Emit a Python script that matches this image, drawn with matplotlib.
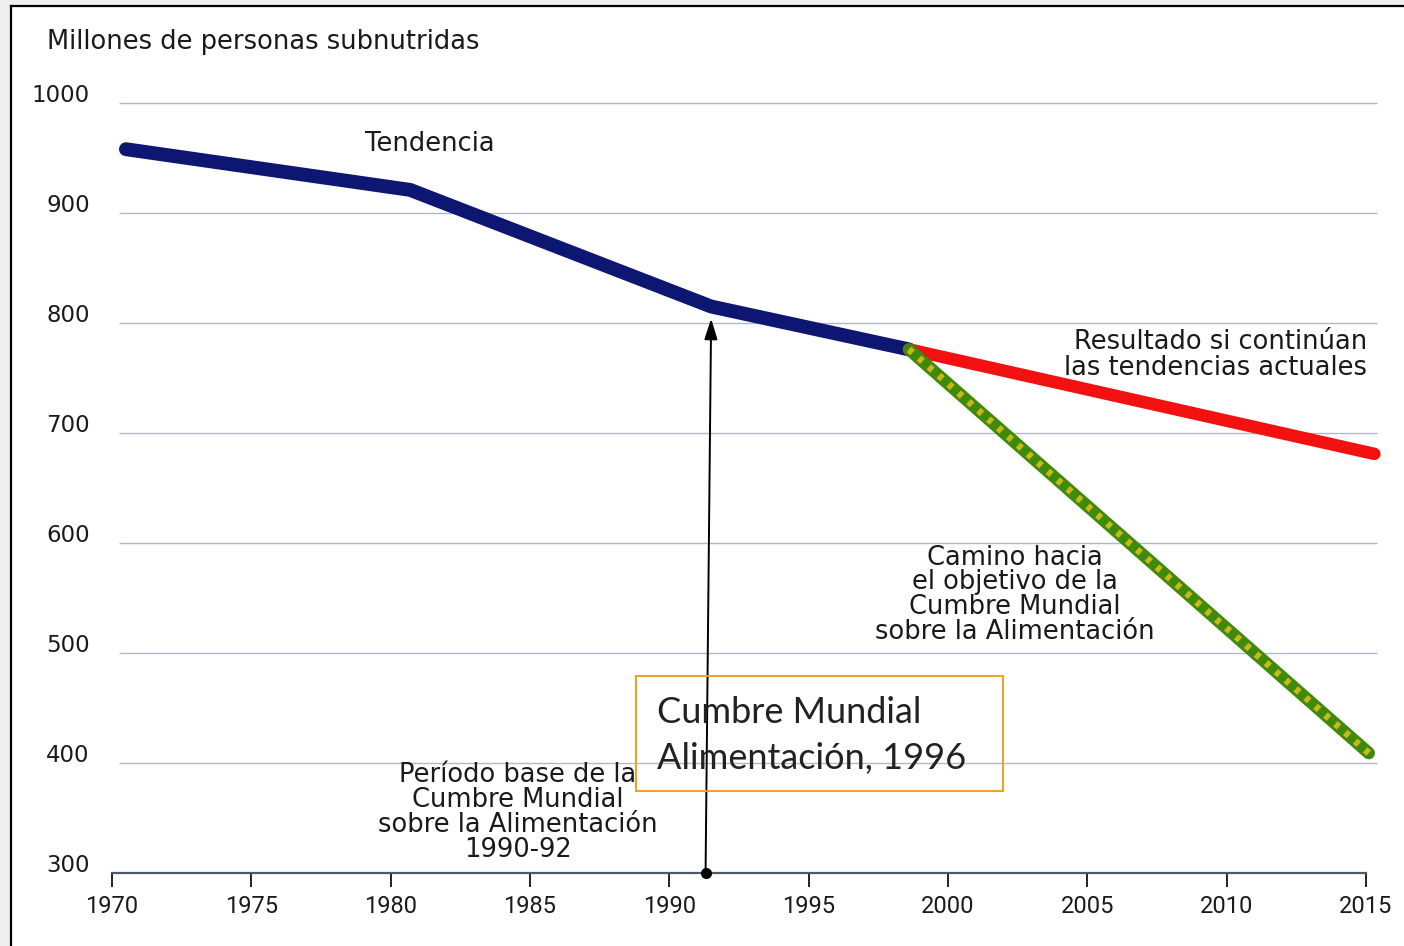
import matplotlib.pyplot as plt
from matplotlib.patches import Rectangle
from matplotlib.lines import Line2D
from matplotlib.transforms import ScaledTranslation

# data
trend_years = [1970.5, 1980.7, 1991.5, 1998.6]
trend_values = [958, 921, 815, 776]
current_years = [1998.6, 2015.3]
current_values = [776, 681]
goal_years = [1998.6, 2015.1]
goal_values = [776, 409]
base_year = 1991.3
base_arrow = [300, 804]

x_ticks = [1970, 1975, 1980, 1985, 1990, 1995, 2000, 2005, 2010, 2015]
y_ticks = [300, 400, 500, 600, 700, 800, 900, 1000]

W, H = 1404, 946
fig = plt.figure(figsize=(W / 100, H / 100), dpi=100)
fig.patch.set_facecolor("white")

# scan frame
fig.add_artist(Rectangle((0, 0), 10 / W, 1, transform=fig.transFigure, color="#efefef", lw=0))
fig.add_artist(Rectangle((0, 1 - 5 / H), 1, 5 / H, transform=fig.transFigure, color="#efefef", lw=0))
fig.add_artist(Line2D([11 / W, 11 / W], [0, 1 - 6 / H], transform=fig.transFigure, color="black", lw=1.6))
fig.add_artist(Line2D([11 / W, 1], [1 - 6 / H, 1 - 6 / H], transform=fig.transFigure, color="black", lw=1.6))

left, right = 112, 1366
top, bottom = 103, 873
ax = fig.add_axes([left / W, 1 - bottom / H, (right - left) / W, (bottom - top) / H])
ax.set_xlim(1970, 2015)
ax.set_ylim(300, 1000)
ax.patch.set_alpha(0)

for s in ["left", "right", "top"]:
    ax.spines[s].set_visible(False)
ax.spines["bottom"].set_color("#4a5a6a")
ax.spines["bottom"].set_linewidth(1.6)

ax.hlines(y_ticks[1:], 1970.25, 2015.4, color="#b0b8c6", lw=1.0, clip_on=False, zorder=1)

ax.set_xticks(x_ticks)
ax.set_xticklabels([str(y) for y in x_ticks], family=["Roboto", "DejaVu Sans"],
                   fontsize=17, color="#1a1a1a")
ax.tick_params(axis="x", direction="out", length=10, width=1.4, color="#222222", pad=6)
ax.set_yticks(y_ticks)
ax.set_yticklabels([str(v) for v in y_ticks], fontsize=16.5, color="#1a1a1a")
ax.tick_params(axis="y", length=0, pad=16)
lift = ScaledTranslation(0, 10 / 100, fig.dpi_scale_trans)
for lbl in ax.get_yticklabels():
    lbl.set_transform(lbl.get_transform() + lift)

# lines
ax.plot(trend_years, trend_values, color="#0d1670", lw=10, solid_capstyle="round",
        solid_joinstyle="round", clip_on=False, zorder=3)
ax.plot(current_years, current_values, color="#f21010", lw=9, solid_capstyle="round",
        clip_on=False, zorder=3)
ax.plot(goal_years, goal_values, color="#3f8a0a", lw=9, solid_capstyle="round",
        clip_on=False, zorder=4)
ax.plot(goal_years, goal_values, color="#c9b81a", lw=5, dashes=(0.7, 1.2),
        clip_on=False, zorder=5)

# base period arrow
ax.annotate("", xy=(base_year + 0.2, base_arrow[1]), xytext=(base_year, base_arrow[0]),
            arrowprops=dict(arrowstyle="-|>,head_length=0.7,head_width=0.22", color="black",
                            lw=1.4, mutation_scale=18, shrinkA=0, shrinkB=0), zorder=6)
ax.plot([base_year], [base_arrow[0]], "o", color="black", ms=7, clip_on=False, zorder=7)

# texts
fs = 18.5
fig.text(47 / W, 1 - 42 / H, "Millones de personas subnutridas", fontsize=fs,
         ha="left", va="center", color="#1a1a1a")
ax.text(1981.4, 963, "Tendencia", fontsize=fs, ha="center", va="center", color="#1a1a1a")
ax.text(2015.05, 771, "Resultado si continúan\nlas tendencias actuales", fontsize=fs,
        ha="right", va="center", multialignment="right", linespacing=0.98, color="#1a1a1a")
ax.text(2002.4, 553, "Camino hacia\nel objetivo de la\nCumbre Mundial\nsobre la Alimentación",
        fontsize=fs, ha="center", va="center", multialignment="center", linespacing=0.94,
        color="#1a1a1a")
ax.text(1984.57, 355, "Período base de la\nCumbre Mundial\nsobre la Alimentación\n1990-92",
        fontsize=fs, ha="center", va="center", multialignment="center", linespacing=0.94,
        color="#1a1a1a")

# boxed note
ax.add_patch(Rectangle((1988.8, 374.5), 13.17, 104.6, fill=False, edgecolor="#f0a020",
                       lw=1.4, clip_on=False, zorder=8))
ax.text(1989.56, 425, "Cumbre Mundial\nAlimentación, 1996", family=["Lato", "DejaVu Sans"],
        fontsize=26, ha="left", va="center", linespacing=1.5, color="#222222", zorder=9)

fig.savefig("out.png", dpi=100)
plt.close(fig)
